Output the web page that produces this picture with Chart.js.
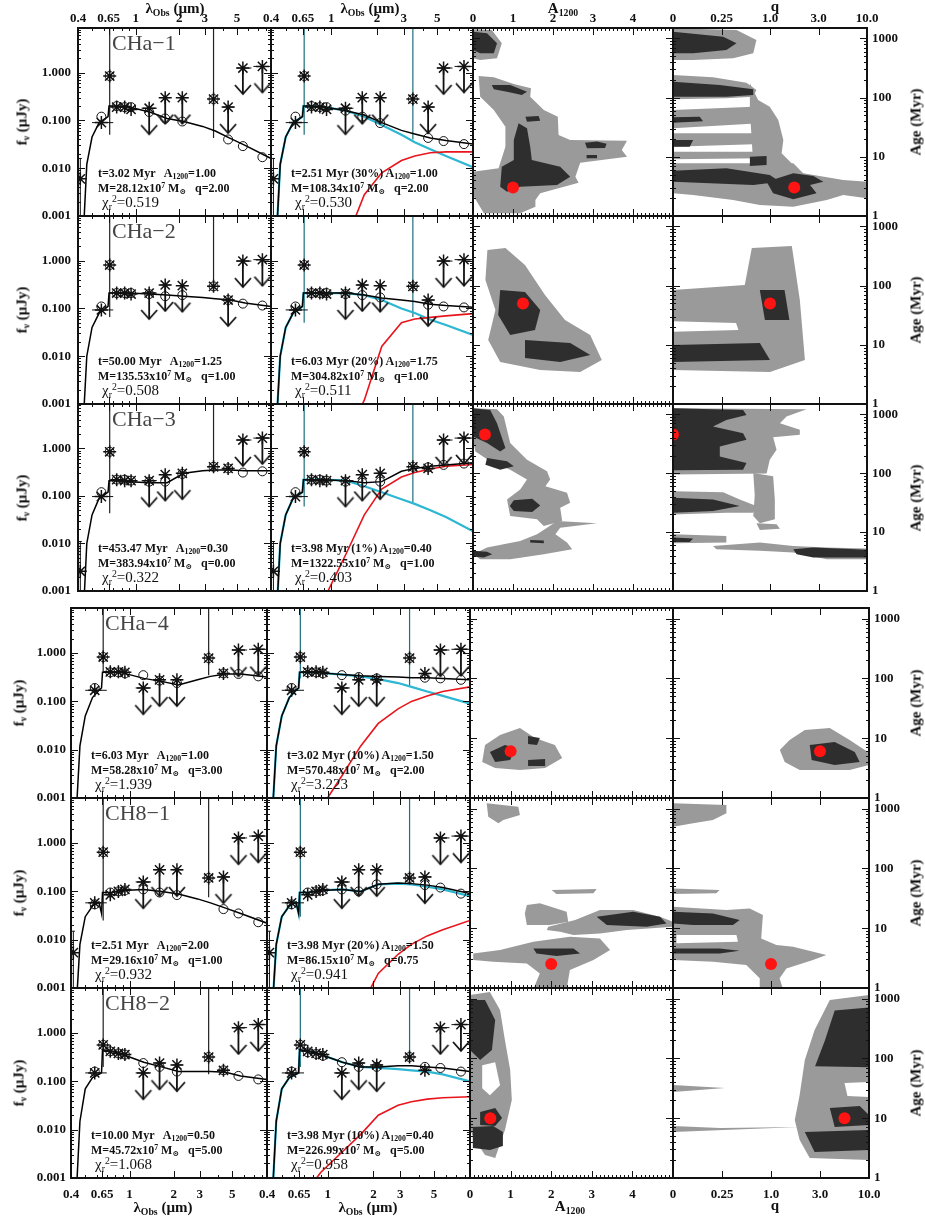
<!DOCTYPE html>
<html>
<head>
<meta charset="utf-8">
<script src="https://cdn.jsdelivr.net/npm/chart.js@4.4.1/dist/chart.umd.min.js"></script>
<style>
  body { margin: 0; background: #fff; }
  #fig { position: relative; width: 925px; height: 1224px; overflow: hidden; background: #fff; }
  #fig canvas { position: absolute; }
  .t { position: absolute; white-space: nowrap; font-family: 'Liberation Serif', 'DejaVu Serif', serif; color: #111; line-height: 1; }
  .t sub, .t sup { font-size: 65%; line-height: 0; position: relative; vertical-align: baseline; }
  .t sub { top: 0.3em; }
  .t sup { top: -0.55em; }
  .name { font-size: 22px; color: #444; }
  .fit { font-size: 12px; font-weight: bold; }
  .chi { font-size: 15px; }
  .ax { font-size: 15px; font-weight: bold; }
  .rot { transform: translate(-50%, -50%) rotate(-90deg); }
  .ctr { transform: translateX(-50%); }
</style>
</head>
<body>
<div id="fig"></div>
<script>
// ---------------- data ----------------
const objNames = ['CHa\u22121', 'CHa\u22122', 'CHa\u22123', 'CHa\u22124', 'CH8\u22121', 'CH8\u22122']

// single population fit (first column, and the red dot of the contour panels)
const fitAge1 = [3.02, 50.00, 453.47, 6.03, 2.51, 10.00]
const fitA1 = [1.00, 1.25, 0.30, 1.00, 2.00, 0.50]
const fitMass1 = ['28.12', '135.53', '383.94', '58.28', '29.16', '45.72']
const fitQ1 = [2.00, 1.00, 0.00, 3.00, 1.00, 5.00]
const fitChi1 = ['0.519', '0.508', '0.322', '1.939', '0.932', '1.068']

// two population fit (second column)
const fitAge2 = ['2.51', '6.03', '3.98', '3.02', '3.98', '3.98']
const fitFrac2 = ['30%', '20%', '1%', '10%', '20%', '10%']
const fitA2 = ['1.00', '1.75', '0.40', '1.50', '1.50', '0.40']
const fitMass2 = ['108.34', '304.82', '1322.55', '570.48', '86.15', '226.99']
const fitQ2 = ['2.00', '1.00', '1.00', '2.00', '0.75', '5.00']
const fitChi2 = ['0.530', '0.511', '0.403', '3.223', '0.941', '0.958']

// axes
const lamTicks = [0.4, 0.65, 1, 2, 3, 5]
const lamTickLabels = ['0.4', '0.65', '1', '2', '3', '5']
const fluxTicks = [0.001, 0.01, 0.1, 1]
const fluxTickLabels = ['0.001', '0.010', '0.100', '1.000']
const aTicks = [0, 1, 2, 3, 4]
const aTickLabels = ['0', '1', '2', '3', '4']
const qGrid = [0, 0.1, 0.25, 0.5, 1.0, 2.0, 3.0, 5.0, 10.0] // q model grid, plotted by grid index
const qTicks = [0, 2, 4, 6, 8]
const qTickLabels = ['0', '0.25', '1.0', '3.0', '10.0']
const ageTicks = [1, 10, 100, 1000]
const ageTickLabels = ['1', '10', '100', '1000']

// photometric bands (micron) and filter edges
const bandLam = [0.415, 0.58, 0.662, 0.74, 0.84, 0.93, 1.24, 1.6, 2.1, 3.45, 4.35, 5.5, 7.5]
const bandLo = [null, 0.5, null, null, null, null, 1.1, 1.48, 1.96, null, 4.0, 4.95, 6.5]
const bandHi = [null, 0.7, null, null, null, null, 1.4, 1.74, 2.3, null, 4.8, 6.3, 8.6]

// observed fluxes (uJy), same in both SED columns
const obsFlux = [
  [0.006, 0.09, 0.85, 0.19, 0.19, 0.17, 0.18, 0.3, 0.3, 0.28, 0.19, 1.25, 1.35],
  [null, 0.093, 0.81, 0.21, 0.21, 0.2, 0.21, 0.31, 0.3, 0.29, 0.15, 0.98, 1.05],
  [0.0026, 0.097, 0.85, 0.22, 0.21, 0.21, 0.21, 0.28, 0.3, 0.41, 0.38, 1.5, 1.65],
  [null, 0.17, 0.83, 0.41, 0.41, 0.4, 0.19, 0.28, 0.28, 0.79, 0.38, 1.16, 1.2],
  [0.0054, 0.058, 0.65, 0.085, 0.1, 0.11, 0.157, 0.28, 0.28, 0.19, 0.2, 1.28, 1.4],
  [null, 0.15, 0.57, 0.42, 0.38, 0.36, 0.15, 0.24, 0.22, 0.32, 0.17, 1.3, 1.5]
]
const obsLimit = [
  [0, 0, 0, 0, 0, 0, 1, 1, 1, 0, 1, 1, 1],
  [0, 0, 0, 0, 0, 0, 1, 1, 1, 0, 1, 1, 1],
  [0, 0, 0, 0, 0, 0, 1, 1, 1, 0, 0, 1, 1],
  [0, 0, 0, 0, 0, 0, 1, 1, 1, 0, 0, 1, 1],
  [0, 0, 0, 0, 0, 0, 1, 1, 1, 0, 1, 1, 1],
  [0, 0, 0, 0, 0, 0, 1, 1, 1, 0, 0, 1, 1]
]
const err415 = [[0.0004, 0.016], null, [0.0004, 0.011], null, [0.0004, 0.015], null]

// model photometry (open circles)
const modSgl = [
  [null, 0.12, 0.85, 0.2, 0.19, 0.19, 0.15, 0.11, 0.095, 0.28, 0.04, 0.029, 0.017],
  [null, 0.11, 0.81, 0.21, 0.21, 0.21, 0.2, 0.18, 0.19, 0.29, 0.15, 0.126, 0.115],
  [null, 0.12, 0.85, 0.22, 0.22, 0.21, 0.2, 0.2, 0.29, 0.41, 0.38, 0.31, 0.33],
  [null, 0.19, 0.83, 0.4, 0.4, 0.38, 0.35, 0.27, 0.24, 0.79, 0.38, 0.37, 0.33],
  [null, 0.054, 0.65, 0.095, 0.1, 0.105, 0.11, 0.095, 0.084, 0.19, 0.043, 0.035, 0.023],
  [null, 0.16, 0.57, 0.42, 0.38, 0.36, 0.24, 0.2, 0.16, 0.32, 0.17, 0.13, 0.11]
]
const modDbl = [
  [null, 0.12, 0.85, 0.2, 0.19, 0.19, 0.16, 0.12, 0.088, 0.28, 0.043, 0.037, 0.032],
  [null, 0.11, 0.81, 0.21, 0.21, 0.21, 0.2, 0.19, 0.17, 0.29, 0.12, 0.11, 0.105],
  [null, 0.12, 0.85, 0.22, 0.22, 0.21, 0.2, 0.19, 0.2, 0.41, 0.4, 0.45, 0.48],
  [null, 0.19, 0.83, 0.4, 0.4, 0.38, 0.35, 0.32, 0.3, 0.79, 0.31, 0.3, 0.28],
  [null, 0.054, 0.65, 0.095, 0.1, 0.105, 0.11, 0.1, 0.14, 0.19, 0.135, 0.12, 0.09],
  [null, 0.16, 0.57, 0.4, 0.37, 0.34, 0.25, 0.2, 0.2, 0.32, 0.2, 0.19, 0.16]
]

// model spectra
const lineLam = [0.44, 0.46, 0.5, 0.56, 0.62, 0.645, 0.655, 0.75, 0.9, 1.25, 1.65, 2.15, 2.9, 3.55, 4.5, 5.7, 8.6]
const sglLine = [
  [0.0008, 0.012, 0.045, 0.09, 0.11, 0.12, 0.2, 0.2, 0.19, 0.15, 0.11, 0.095, 0.075, 0.06, 0.042, 0.03, 0.016],
  [0.0008, 0.01, 0.04, 0.08, 0.1, 0.11, 0.21, 0.21, 0.21, 0.2, 0.19, 0.18, 0.17, 0.16, 0.15, 0.13, 0.11],
  [0.0006, 0.01, 0.04, 0.09, 0.11, 0.12, 0.21, 0.21, 0.2, 0.19, 0.19, 0.3, 0.34, 0.35, 0.35, 0.34, 0.34],
  [0.001, 0.012, 0.05, 0.12, 0.17, 0.19, 0.4, 0.4, 0.39, 0.3, 0.26, 0.22, 0.28, 0.33, 0.37, 0.37, 0.32],
  [0.0008, 0.008, 0.03, 0.05, 0.06, 0.035, 0.095, 0.095, 0.105, 0.11, 0.1, 0.088, 0.07, 0.058, 0.045, 0.035, 0.022],
  [0.001, 0.015, 0.07, 0.12, 0.14, 0.15, 0.45, 0.42, 0.36, 0.25, 0.2, 0.16, 0.16, 0.16, 0.155, 0.13, 0.11]
]
const dblTotal = [
  [0.0008, 0.012, 0.045, 0.09, 0.11, 0.12, 0.2, 0.2, 0.19, 0.16, 0.13, 0.09, 0.062, 0.052, 0.043, 0.038, 0.032],
  [0.0008, 0.01, 0.04, 0.08, 0.1, 0.11, 0.21, 0.21, 0.21, 0.21, 0.19, 0.165, 0.15, 0.14, 0.123, 0.115, 0.106],
  [0.0006, 0.01, 0.04, 0.09, 0.11, 0.12, 0.22, 0.22, 0.22, 0.21, 0.19, 0.2, 0.33, 0.38, 0.42, 0.45, 0.5],
  [0.001, 0.012, 0.05, 0.12, 0.17, 0.19, 0.4, 0.4, 0.39, 0.36, 0.34, 0.33, 0.32, 0.31, 0.31, 0.3, 0.28],
  [0.0008, 0.008, 0.03, 0.05, 0.06, 0.035, 0.095, 0.095, 0.105, 0.11, 0.1, 0.14, 0.15, 0.145, 0.135, 0.12, 0.09],
  [0.001, 0.015, 0.07, 0.12, 0.14, 0.15, 0.45, 0.42, 0.36, 0.25, 0.2, 0.2, 0.21, 0.21, 0.2, 0.19, 0.16]
]
const dblYoung = [
  [0.0008, 0.012, 0.045, 0.09, 0.11, 0.12, 0.2, 0.2, 0.19, 0.16, 0.12, 0.08, 0.05, 0.035, 0.025, 0.018, 0.0105],
  [0.0008, 0.01, 0.04, 0.08, 0.1, 0.11, 0.21, 0.21, 0.21, 0.21, 0.19, 0.15, 0.1, 0.08, 0.058, 0.045, 0.028],
  [0.0006, 0.01, 0.04, 0.09, 0.11, 0.12, 0.22, 0.22, 0.22, 0.21, 0.16, 0.12, 0.085, 0.068, 0.05, 0.036, 0.018],
  [0.001, 0.012, 0.05, 0.12, 0.17, 0.19, 0.4, 0.4, 0.39, 0.36, 0.33, 0.29, 0.24, 0.2, 0.16, 0.13, 0.09],
  [0.0008, 0.008, 0.03, 0.05, 0.06, 0.035, 0.095, 0.095, 0.105, 0.11, 0.1, 0.14, 0.145, 0.14, 0.125, 0.11, 0.08],
  [0.001, 0.015, 0.07, 0.12, 0.14, 0.15, 0.45, 0.42, 0.36, 0.25, 0.2, 0.19, 0.18, 0.17, 0.16, 0.14, 0.1]
]
const dblOld = [
  [null, null, null, null, null, null, null, null, null, 0.0003, 0.0028, 0.008, 0.0145, 0.018, 0.021, 0.022, 0.022],
  [null, null, null, null, null, null, null, null, null, 0.0002, 0.0012, 0.016, 0.05, 0.06, 0.065, 0.07, 0.078],
  [null, null, null, null, null, null, null, null, 0.0007, 0.006, 0.04, 0.14, 0.25, 0.31, 0.37, 0.42, 0.46],
  [null, null, null, null, null, null, null, null, 0.0006, 0.003, 0.012, 0.035, 0.07, 0.1, 0.13, 0.16, 0.2],
  [null, null, null, null, null, null, null, null, null, null, 0.0004, 0.002, 0.005, 0.008, 0.012, 0.016, 0.025],
  [null, null, null, null, null, null, 0.0003, 0.0006, 0.0013, 0.0035, 0.008, 0.02, 0.032, 0.038, 0.043, 0.046, 0.048]
]
// lower end of the emission-line spikes at 0.66 and 3.45 micron
const spike1 = [[0.05, 0.043], [0.066, 0.24], [0.043, 0.38], [0.4, 0.35], [0.025, 0.076], [0.2, 0.14]]
const spike2 = [[0.05, 0.04], [0.05, 0.066], [0.06, 0.075], [0.3, 0.2], [0.03, 0.17], [0.2, 0.25]]

// chi2 contours: [level, [[x, log10 age], ...]]  level 1 = outer, 2 = inner, 0 = hole
const contA = [
  [
    [1, [[0, 3.154], [0.47, 3.142], [0.72, 2.917], [0.6, 2.664], [0.18, 2.636], [0, 2.664]]],
    [2, [[0, 3.114], [0.35, 3.086], [0.6, 2.917], [0.52, 2.748], [0.18, 2.748], [0, 2.804]]],
    [1, [[0.14, 2.365], [0.52, 2.343], [1.02, 2.23], [1.45, 2.157], [1.43, 2.016], [1.77, 1.791], [2.12, 1.678], [2.14, 1.369], [2.43, 1.284], [3.85, 1.273], [3.72, 1.115], [3.85, 1.003], [2.68, 0.901], [2.56, 0.665], [2.64, 0.563], [1.68, 0.383], [1.56, 0.271], [1.56, 0.158], [1.18, 0.045], [0.27, 0.045], [0, 0.355], [0, 0.749], [0.64, 0.806], [0.81, 1.171], [0.81, 1.509], [0.52, 1.791], [0.18, 2.016]]],
    [2, [[0.47, 2.213], [0.93, 2.213], [1.35, 2.101], [1.22, 2.045], [0.85, 2.101], [0.52, 2.14]]],
    [2, [[1.31, 1.678], [1.64, 1.69], [1.68, 1.61], [1.35, 1.594]]],
    [2, [[1.14, 1.566], [1.35, 1.481], [1.43, 1.171], [1.47, 0.946], [2.18, 0.834], [2.43, 0.665], [2.1, 0.524], [1.18, 0.496], [0.85, 0.411], [0.68, 0.496], [0.72, 0.834], [1.02, 0.946], [1.02, 1.284]]],
    [2, [[2.8, 1.239], [3.1, 1.26], [3.34, 1.22], [3.3, 1.15], [2.85, 1.143]]],
    [2, [[2.84, 1.031], [3.1, 1.031], [3.1, 0.974], [2.84, 0.974]]]
  ],
  [
    [1, [[0.36, 2.602], [0.81, 2.635], [1.3, 2.348], [1.8, 1.841], [2.3, 1.419], [2.93, 1.166], [3.22, 0.744], [2.68, 0.541], [1.68, 0.575], [0.68, 0.71], [0.38, 1.081], [0.56, 1.588], [0.31, 2.095]]],
    [2, [[0.68, 1.926], [1.3, 1.892], [1.68, 1.588], [1.55, 1.25], [0.93, 1.166], [0.63, 1.503]]],
    [2, [[1.3, 1.081], [2.43, 1.031], [2.93, 0.828], [2.18, 0.71], [1.3, 0.777]]]
  ],
  [
    [1, [[0, 3.103], [0.6, 3.086], [0.77, 2.962], [0.93, 2.512], [1.35, 2.23], [1.85, 2.033], [1.93, 1.892], [1.81, 1.78], [2.35, 1.667], [2.43, 1.498], [2.18, 1.414], [2.23, 1.188], [1.77, 1.104], [1.6, 1.217], [0.93, 1.273], [0.85, 1.554], [1.18, 1.723], [1.35, 1.892], [0.93, 2.061], [0.43, 2.202], [0.06, 2.371], [0, 2.568]]],
    [1, [[2.1, 1.188], [3.1, 1.149], [2.18, 1.076], [2.06, 0.963], [2.35, 0.822], [2.48, 0.71], [1.77, 0.625], [0.93, 0.541], [0.18, 0.541], [0, 0.625], [0.35, 0.738], [1.18, 0.851], [1.6, 0.963], [1.85, 1.076]]],
    [2, [[0, 3.103], [0.43, 3.075], [0.6, 2.85], [0.81, 2.427], [0.68, 2.371], [0.35, 2.512], [0, 2.624]]],
    [2, [[0.35, 2.258], [0.85, 2.202], [1.02, 2.117], [0.68, 2.061], [0.31, 2.146]]],
    [2, [[1.02, 1.543], [1.48, 1.566], [1.68, 1.453], [1.48, 1.34], [1.02, 1.357], [0.92, 1.442]]],
    [2, [[1.43, 0.867], [1.77, 0.856], [1.77, 0.811], [1.43, 0.822]]],
    [2, [[0, 0.682], [0.35, 0.665], [0.48, 0.625], [0.27, 0.569], [0, 0.586]]]
  ],
  [
    [1, [[0.37, 0.885], [0.74, 1.052], [1.23, 1.169], [1.6, 1.002], [2.09, 0.885], [2.27, 0.668], [1.85, 0.5], [1.23, 0.467], [0.62, 0.5], [0.3, 0.601]]],
    [2, [[0.49, 0.768], [0.86, 0.885], [1.11, 0.835], [0.99, 0.634], [0.62, 0.601]]],
    [2, [[1.43, 0.634], [1.85, 0.651], [1.85, 0.534], [1.43, 0.534]]],
    [2, [[1.43, 1.035], [1.72, 1.002], [1.65, 0.885], [1.43, 0.902]]]
  ],
  [
    [1, [[0.41, 3.087], [1.19, 3.031], [1.23, 2.892], [0.82, 2.808], [0.7, 2.752], [0.45, 2.864]]],
    [1, [[2.01, 1.638], [3.12, 1.654], [3.04, 1.582], [2.13, 1.571]]],
    [1, [[1.4, 1.387], [1.72, 1.415], [2.38, 1.275], [2.42, 1.108], [1.97, 1.052], [1.4, 1.052], [1.35, 1.247]]],
    [1, [[2.59, 1.136], [3.2, 1.303], [4.02, 1.303], [4.68, 1.192], [5, 1.108], [5, 1.024], [3.86, 0.969], [3.2, 0.913], [2.55, 0.885], [2.22, 0.941], [1.89, 0.969], [1.93, 1.024]]],
    [1, [[0.08, 0.578], [0.74, 0.634], [1.56, 0.774], [2.46, 0.857], [3.2, 0.829], [3.45, 0.634], [3.04, 0.467], [2.46, 0.3], [2.38, -0.02], [1.56, -0.02], [1.72, 0.244], [1.4, 0.411], [0.57, 0.439], [0.08, 0.467]]],
    [2, [[3.12, 1.192], [4.02, 1.275], [4.68, 1.192], [4.84, 1.08], [4.35, 1.024], [3.37, 1.052]]],
    [2, [[1.56, 0.662], [2.55, 0.662], [2.71, 0.578], [2.13, 0.534], [1.64, 0.578]]]
  ],
  [
    [1, [[0, 3.059], [0.49, 3.109], [0.74, 2.808], [0.86, 2.306], [0.99, 1.804], [1.03, 1.303], [0.86, 0.801], [0.62, 0.333], [0.37, 0.383], [0.12, 0.634], [0, 0.801]]],
    [0, [[0.3, 1.885], [0.62, 1.936], [0.74, 1.55], [0.49, 1.383], [0.3, 1.5]]],
    [2, [[0, 2.975], [0.37, 2.975], [0.62, 2.641], [0.54, 2.139], [0.25, 1.972], [0, 2.139]]],
    [2, [[0.25, 1.102], [0.62, 1.169], [0.79, 1.002], [0.62, 0.868], [0.25, 0.885]]],
    [2, [[0.07, 0.852], [0.57, 0.868], [0.81, 0.768], [0.81, 0.534], [0.49, 0.467], [0.07, 0.501]]]
  ]
]
const contQ = [
  [
    [1, [[0, 3.17], [2.62, 3.142], [3.44, 2.973], [3.31, 2.748], [2.48, 2.664], [0.83, 2.636], [0, 2.636]]],
    [1, [[0, 2.382], [1.65, 2.343], [3.03, 2.253], [3.44, 2.129], [3.31, 2.016], [2.2, 1.988], [0, 1.971]]],
    [1, [[0, 1.791], [3.31, 1.847], [3.58, 1.566], [0, 1.481]]],
    [1, [[0, 1.397], [3.58, 1.397], [3.65, 1.217], [0, 1.171]]],
    [1, [[0, 1.087], [3.58, 1.087], [3.65, 0.974], [0, 0.957]]],
    [1, [[3.17, 2.241], [3.51, 1.96], [3.99, 1.847], [4.34, 1.622], [4.55, 1.284], [4.48, 1.059], [4.96, 0.862], [3.31, 0.862], [3.17, 1.791]]],
    [1, [[0, 0.89], [4.96, 0.89], [5.37, 0.721], [7.02, 0.608], [8, 0.58], [8, 0.298], [7.02, 0.355], [6.34, 0.271], [4.96, 0.158], [3.58, 0.186], [2.48, 0.271], [0.83, 0.355], [0, 0.383]]],
    [2, [[0, 3.114], [2.07, 3.03], [2.62, 2.917], [2.2, 2.804], [0.83, 2.748], [0, 2.748]]],
    [2, [[0, 2.27], [1.93, 2.213], [3.31, 2.14], [3.31, 2.045], [2.2, 2.016], [0, 2.016]]],
    [2, [[0, 1.667], [1.1, 1.678], [1.24, 1.599], [0, 1.577]]],
    [2, [[0, 1.284], [0.83, 1.284], [0.69, 1.171], [0, 1.171]]],
    [2, [[3.17, 1.003], [3.86, 1.014], [3.86, 0.862], [3.17, 0.845]]],
    [2, [[0, 0.766], [2.2, 0.805], [3.99, 0.693], [4.41, 0.58], [3.31, 0.524], [0, 0.58]]],
    [2, [[3.86, 0.58], [4.96, 0.721], [5.79, 0.676], [6.2, 0.58], [5.65, 0.524], [5.92, 0.383], [4.96, 0.282], [4.13, 0.383]]]
  ],
  [
    [1, [[0, 1.926], [2.96, 2.01], [3.25, 2.635], [4.9, 2.669], [5.23, 1.757], [5.44, 0.744], [4.0, 0.541], [0, 0.575]]],
    [0, [[0, 1.4], [2.6, 1.37], [2.7, 1.25], [0, 1.22]]],
    [2, [[0, 0.997], [3.58, 1.031], [4.0, 0.744], [0, 0.71]]],
    [2, [[3.58, 1.926], [4.6, 1.926], [4.8, 1.419], [3.79, 1.419]]]
  ],
  [
    [1, [[0, 3.103], [5.51, 3.086], [4.68, 2.962], [4.41, 2.85], [5.23, 2.737], [5.23, 2.652], [4.13, 2.613], [4.27, 2.399], [3.99, 2.23], [3.86, 1.994], [0, 1.977]]],
    [1, [[3.31, 2.005], [4.13, 1.948], [4.2, 1.554], [4.2, 1.217], [3.58, 1.149], [3.31, 1.273], [3.37, 1.627]]],
    [1, [[0, 1.695], [2.07, 1.678], [2.75, 1.554], [3.44, 1.442], [3.31, 1.329], [2.2, 1.329], [0, 1.301]]],
    [1, [[3.44, 1.149], [4.27, 1.132], [4.41, 1.059], [3.58, 1.036]]],
    [1, [[0, 0.963], [2.2, 0.935], [2.2, 0.822], [0, 0.811]]],
    [1, [[1.65, 0.766], [3.58, 0.822], [4.96, 0.766], [6.34, 0.738], [8, 0.721], [8, 0.541], [6.34, 0.541], [4.96, 0.653], [3.58, 0.682], [1.79, 0.71]]],
    [2, [[0, 3.103], [2.89, 3.075], [3.03, 2.99], [2.2, 2.906], [1.65, 2.793], [2.89, 2.681], [3.03, 2.568], [1.93, 2.455], [1.93, 2.286], [3.03, 2.174], [2.89, 2.061], [0, 2.05]]],
    [2, [[0, 1.583], [1.65, 1.554], [2.75, 1.442], [1.65, 1.357], [0, 1.329]]],
    [2, [[0, 0.907], [0.83, 0.89], [0.69, 0.834], [0, 0.834]]],
    [2, [[4.96, 0.71], [5.79, 0.738], [8, 0.699], [8, 0.569], [5.79, 0.569], [5.1, 0.625]]]
  ],
  [
    [1, [[4.76, 0.969], [5.38, 1.136], [6.4, 1.169], [7.21, 0.969], [7.95, 0.768], [8, 0.551], [7.21, 0.467], [5.17, 0.467], [4.56, 0.601], [4.36, 0.801]]],
    [2, [[5.58, 0.885], [6.6, 0.935], [7.42, 0.768], [7.62, 0.601], [6.6, 0.551], [5.66, 0.634]]]
  ],
  [
    [1, [[0, 3.087], [2.18, 3.059], [2.18, 2.92], [1.63, 2.808], [0.82, 2.752], [0, 2.697]]],
    [1, [[0, 1.665], [1.9, 1.638], [1.77, 1.582], [0, 1.571]]],
    [1, [[0, 1.36], [2.18, 1.303], [3.13, 1.331], [3.67, 1.219], [3.6, 0.829], [4.22, 0.718], [4.9, 0.69], [6.26, 0.551], [5.71, 0.467], [4.63, 0.328], [4.35, 0.161], [4.49, -0.02], [3.54, -0.02], [3.54, 0.161], [2.99, 0.384], [1.63, 0.44], [0, 0.467]]],
    [0, [[0.14, 0.885], [2.59, 0.885], [2.65, 0.774], [0.14, 0.746]]],
    [2, [[0, 1.275], [1.63, 1.247], [2.72, 1.136], [2.45, 1.052], [0.82, 1.052], [0, 1.08]]],
    [2, [[0, 0.662], [1.9, 0.662], [2.72, 0.623], [1.9, 0.578], [0, 0.578]]]
  ],
  [
    [1, [[6.4, 2.975], [8, 3.059], [8, 0.3], [5.58, 0.333], [5.17, 0.634], [4.97, 0.969], [5.17, 1.387], [5.38, 1.972], [5.78, 2.474]]],
    [1, [[0, 1.554], [2.12, 1.504], [0, 1.437]]],
    [1, [[0, 0.868], [1.92, 0.835], [5.17, 0.851], [0, 0.768]]],
    [0, [[7.0, 1.587], [8, 1.604], [8, 1.354], [7.12, 1.37]]],
    [2, [[6.6, 2.8], [8, 2.85], [8, 1.85], [5.8, 1.87], [6.2, 2.3]]],
    [2, [[6.4, 1.169], [7.62, 1.203], [8, 1.052], [8, 0.885], [6.6, 0.851]]],
    [2, [[5.38, 0.768], [8, 0.801], [8, 0.467], [5.78, 0.434]]]
  ]
]

// ---------------- layout ----------------
const fig = document.getElementById('fig')
const M = 50
const topCols = [78, 271, 473, 673, 867]
const botCols = [71, 267, 470, 673, 869]
const rowTops = [28, 216, 404, 608, 798, 988]
const rowBots = [216, 404, 591, 798, 988, 1178]
const SERIF = "'Liberation Serif', 'DejaVu Serif', serif"
const tickFont = { family: SERIF, size: 13, weight: 'bold' }
const levelColor = { 0: '#ffffff', 1: '#9a9a9a', 2: '#2e2e2e' }
const levelOrder = { 0: 25, 1: 30, 2: 20 }
const limitDrop = 3.5 // arrow length of the upper limits

function panelBox (r, c) {
  const cols = r < 3 ? topCols : botCols
  return { x: cols[c], y: rowTops[r], w: cols[c + 1] - cols[c], h: rowBots[r] - rowTops[r] }
}

function makeCanvas (b) {
  const cv = document.createElement('canvas')
  cv.width = b.w + 2 * M
  cv.height = b.h + 2 * M
  cv.style.left = (b.x - M) + 'px'
  cv.style.top = (b.y - M) + 'px'
  cv.style.width = cv.width + 'px'
  cv.style.height = cv.height + 'px'
  fig.appendChild(cv)
  return cv
}

function logMinor (lo, hi) {
  const out = []
  for (let e = Math.floor(Math.log10(lo)); e <= Math.ceil(Math.log10(hi)); e++) {
    for (let m = 2; m <= 9; m++) {
      const v = m * Math.pow(10, e)
      if (v > lo && v < hi) out.push(v)
    }
  }
  return out
}
const lamMinor = [0.5, 0.6, 0.7, 0.8, 0.9, 4, 6, 7, 8]
const aMinor = Array.from({ length: 49 }, (_, i) => (i + 1) / 10).filter(v => Math.abs(v - Math.round(v)) > 0.01)

// arrow head used as point style for upper limits
const arrowHead = document.createElement('canvas')
arrowHead.width = 20
arrowHead.height = 20
const ag = arrowHead.getContext('2d')
ag.strokeStyle = '#111'
ag.lineWidth = 1.8
ag.beginPath()
ag.moveTo(2, 1)
ag.lineTo(10, 10)
ag.lineTo(18, 1)
ag.stroke()

// shown axes get the whole margin as their box (labels are clipped to it), hidden ones none
function axisOpts (o) {
  return {
    type: o.type,
    min: o.min,
    max: o.max,
    display: o.show,
    position: o.position,
    grid: { display: false, drawTicks: false },
    border: { display: false },
    ticks: {
      autoSkip: false, maxRotation: 0, minRotation: 0, padding: o.pad, font: tickFont, color: '#111',
      callback: (v, i) => o.labels[i]
    },
    afterBuildTicks: s => { s.ticks = o.ticks.map(v => ({ value: v })) },
    afterFit: s => {
      const size = o.show ? M : 0
      if (o.horizontal) s.height = size
      else s.width = size
    }
  }
}

function framePlugin (xs, ys) {
  return {
    id: 'frame',
    afterDatasetsDraw (chart) {
      const { ctx, chartArea: a } = chart
      const sx = chart.scales.x
      const sy = chart.scales.y
      ctx.save()
      ctx.strokeStyle = '#111'
      ctx.lineWidth = 1
      ctx.beginPath()
      const tx = (v, len) => {
        const p = Math.round(sx.getPixelForValue(v)) + 0.5
        ctx.moveTo(p, a.top); ctx.lineTo(p, a.top + len)
        ctx.moveTo(p, a.bottom); ctx.lineTo(p, a.bottom - len)
      }
      const ty = (v, len) => {
        const p = Math.round(sy.getPixelForValue(v)) + 0.5
        ctx.moveTo(a.left, p); ctx.lineTo(a.left + len, p)
        ctx.moveTo(a.right, p); ctx.lineTo(a.right - len, p)
      }
      xs.major.forEach(v => tx(v, 7))
      xs.minor.forEach(v => tx(v, 3))
      ys.major.forEach(v => ty(v, 7))
      ys.minor.forEach(v => ty(v, 3))
      ctx.stroke()
      ctx.lineWidth = 2
      ctx.strokeRect(a.left, a.top, a.right - a.left, a.bottom - a.top)
      ctx.restore()
    }
  }
}

function baseOptions (scales, padding) {
  return {
    responsive: false,
    animation: false,
    devicePixelRatio: 1,
    events: [],
    layout: { padding },
    plugins: { legend: { display: false }, tooltip: { enabled: false } },
    elements: { line: { tension: 0 } },
    scales
  }
}

const pts = (xs, ys) => xs.map((x, i) => ({ x, y: ys[i] }))
function segs (list) {
  const out = []
  list.forEach(([x1, y1, x2, y2]) => { out.push({ x: x1, y: y1 }, { x: x2, y: y2 }, { x: x2, y: null }) })
  return out
}
const lineDs = (data, color, width, order) => ({ data, borderColor: color, borderWidth: width, pointRadius: 0, fill: false, clip: 0, order })

function sedDatasets (r, two) {
  const ds = []
  ds.push(lineDs(pts(lineLam, two ? dblTotal[r] : sglLine[r]), '#000', 1.5, 5))
  if (two) {
    ds.push(lineDs(pts(lineLam, dblYoung[r]), '#2db7d2', 2.2, 7))
    ds.push(lineDs(pts(lineLam, dblOld[r]), '#e8151c', 1.6, 6))
  }
  const sp = two ? spike2[r] : spike1[r]
  ds.push(lineDs(segs([[bandLam[2], sp[0], bandLam[2], 100], [bandLam[9], sp[1], bandLam[9], 100]]), two ? '#1f6f7e' : '#222', 1.2, 8))

  const o = obsFlux[r]
  const lim = obsLimit[r]
  const bars = []
  o.forEach((v, i) => { if (v != null && bandLo[i] != null) bars.push([bandLo[i], v, bandHi[i], v]) })
  const e = err415[r]
  if (e) bars.push([bandLam[0], e[0], bandLam[0], e[1]], [bandLam[0] * 0.975, e[1], bandLam[0] * 1.025, e[1]])
  ds.push(lineDs(segs(bars), '#111', 1, 4))

  const arr = []
  const tips = []
  o.forEach((v, i) => {
    if (v != null && lim[i]) {
      arr.push([bandLam[i], v, bandLam[i], v / limitDrop])
      tips.push({ x: bandLam[i], y: v / limitDrop })
    }
  })
  ds.push(lineDs(segs(arr), '#111', 1.8, 3))
  ds.push({ data: tips, showLine: false, pointStyle: arrowHead, pointRadius: 5, order: 3 })

  ds.push({
    data: pts(bandLam, two ? modDbl[r] : modSgl[r]), showLine: false, pointStyle: 'circle', pointRadius: 4.5,
    pointBorderWidth: 1, pointBorderColor: '#111', pointBackgroundColor: 'rgba(255,255,255,0)', order: 2
  })
  ds.push({
    data: pts(bandLam, o), showLine: false, pointStyle: 'star', pointRadius: 6.5,
    pointBorderWidth: 1.5, pointBorderColor: '#111', order: 1
  })
  return ds
}

function sedChart (cv, r, c) {
  const xTop = r === 0
  const xBottom = r === 5
  const yLeft = c === 0
  new Chart(cv, {
    type: 'line',
    data: { datasets: sedDatasets(r, c === 1) },
    options: baseOptions({
      x: axisOpts({ type: 'logarithmic', min: 0.4, max: 8.6, show: xTop || xBottom, position: xTop ? 'top' : 'bottom', ticks: lamTicks, labels: lamTickLabels, pad: xTop ? 2 : 9, horizontal: true }),
      y: axisOpts({ type: 'logarithmic', min: 0.001, max: 8.6, show: yLeft, position: 'left', ticks: fluxTicks, labels: fluxTickLabels, pad: r < 3 ? 7 : 5 })
    }, { left: yLeft ? 0 : M, right: M, top: xTop ? 0 : M, bottom: xBottom ? 0 : M }),
    plugins: [framePlugin({ major: [0.65, 1, 2, 3, 5], minor: lamMinor }, { major: [0.01, 0.1, 1], minor: logMinor(0.001, 8.6) })]
  })
}

function contourChart (cv, r, c) {
  const isQ = c === 3
  const xTop = r === 0
  const xBottom = r === 5
  const regions = isQ ? contQ[r] : contA[r]
  const ds = regions.map(([lev, poly]) => ({
    data: poly.map(p => ({ x: p[0], y: Math.pow(10, p[1]) })),
    fill: 'shape', backgroundColor: levelColor[lev], borderWidth: 0, pointRadius: 0, order: levelOrder[lev]
  }))
  ds.push({
    data: [{ x: isQ ? qGrid.indexOf(fitQ1[r]) : fitA1[r], y: fitAge1[r] }],
    showLine: false, pointRadius: 6, pointBackgroundColor: '#ff1414', pointBorderWidth: 0, clip: 0, order: 1
  })
  new Chart(cv, {
    type: 'line',
    data: { datasets: ds },
    options: baseOptions({
      x: axisOpts({
        type: 'linear', min: 0, max: isQ ? 8 : 5, show: xTop || xBottom, position: xTop ? 'top' : 'bottom',
        ticks: isQ ? qTicks : aTicks, labels: isQ ? qTickLabels : aTickLabels, pad: xTop ? 2 : 9, horizontal: true
      }),
      y: axisOpts({ type: 'logarithmic', min: 1, max: 1500, show: isQ, position: 'right', ticks: ageTicks, labels: ageTickLabels, pad: 5 })
    }, { left: M, right: isQ ? 0 : M, top: xTop ? 0 : M, bottom: xBottom ? 0 : M }),
    plugins: [framePlugin(isQ ? { major: [2, 4, 6], minor: [] } : { major: [1, 2, 3, 4], minor: aMinor },
      { major: [10, 100, 1000], minor: logMinor(1, 1500) })]
  })
}

function addText (cls, html, left, top) {
  const d = document.createElement('div')
  d.className = 't ' + cls
  d.innerHTML = html
  d.style.left = left + 'px'
  d.style.top = top + 'px'
  fig.appendChild(d)
  return d
}

// ---------------- build ----------------
for (let r = 0; r < 6; r++) {
  for (let c = 0; c < 4; c++) {
    const cv = makeCanvas(panelBox(r, c))
    if (c < 2) sedChart(cv, r, c)
    else contourChart(cv, r, c)
  }

  const p0 = panelBox(r, 0)
  const bottom = p0.y + p0.h
  addText('name', objNames[r], p0.x + 34, p0.y + 22 - 18.4)
  for (let c = 0; c < 2; c++) {
    const p = panelBox(r, c)
    const l1 = c === 0
      ? `t=${fitAge1[r].toFixed(2)} Myr&nbsp;&nbsp; A<sub>1200</sub>=${fitA1[r].toFixed(2)}`
      : `t=${fitAge2[r]} Myr (${fitFrac2[r]}) A<sub>1200</sub>=${fitA2[r]}`
    const l2 = `M=${c ? fitMass2[r] : fitMass1[r]}x10<sup>7</sup> M<sub>\u2299</sub>&nbsp;&nbsp; q=${c ? fitQ2[r] : fitQ1[r].toFixed(2)}`
    const l3 = `\u03c7<sub>r</sub><sup>2</sup>=${c ? fitChi2[r] : fitChi1[r]}`
    addText('fit', l1, p.x + 20, bottom - 39 - 10)
    addText('fit', l2, p.x + 20, bottom - 24 - 10)
    addText('chi', l3, p.x + 24, bottom - 8 - 12.6)
  }
  addText('ax rot', 'f<sub>\u03bd</sub> (\u00b5Jy)', r < 3 ? 22 : 19, p0.y + p0.h / 2)
  addText('ax rot', 'Age (Myr)', 916, p0.y + p0.h / 2)
}

// axis titles
const lamTitle = '\u03bb<sub>Obs</sub> (\u00b5m)'
addText('ax ctr', lamTitle, 175, 14 - 12.6)
addText('ax ctr', lamTitle, 370, 14 - 12.6)
addText('ax ctr', 'A<sub>1200</sub>', 563, 14 - 12.6)
addText('ax ctr', 'q', 775, 12 - 12.6)
addText('ax ctr', lamTitle, 163, 1213 - 12.6)
addText('ax ctr', lamTitle, 368, 1213 - 12.6)
addText('ax ctr', 'A<sub>1200</sub>', 570, 1212 - 12.6)
addText('ax ctr', 'q', 775, 1211 - 12.6)
</script>
</body>
</html>
